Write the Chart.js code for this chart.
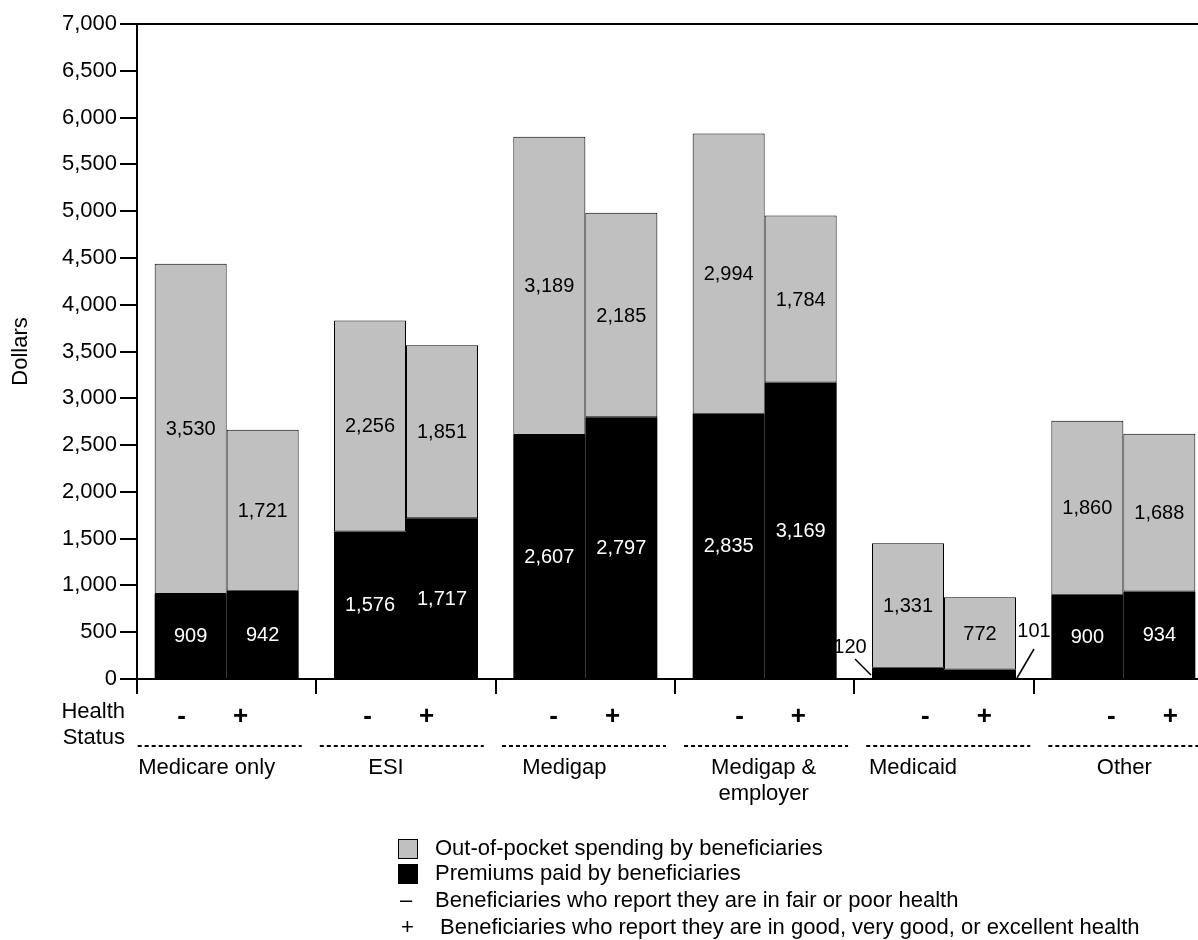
<!DOCTYPE html>
<html>
<head>
<meta charset="utf-8">
<script src="https://cdn.jsdelivr.net/npm/chart.js@4/dist/chart.umd.min.js"></script>
<style>
html,body{margin:0;padding:0;overflow:hidden;background:#fff;width:1198px;height:940px;}
#wrap{position:relative;width:1198px;height:940px;overflow:hidden;}
#c{position:absolute;left:0;top:0;}
.lg{position:absolute;font-family:"Liberation Sans",Arial,sans-serif;font-size:22px;line-height:22px;color:#000;white-space:nowrap;}
.sw{position:absolute;width:18px;height:18px;border:1px solid #000;}
</style>
</head>
<body>
<div id="wrap">
<canvas id="c" width="1230" height="940"></canvas>
<div class="sw" style="left:398px;top:839px;background:#c0c0c0;"></div>
<div class="lg" style="left:435px;top:837px;">Out-of-pocket spending by beneficiaries</div>
<div class="sw" style="left:398px;top:864px;background:#000;"></div>
<div class="lg" style="left:435px;top:862px;">Premiums paid by beneficiaries</div>
<div class="lg" style="left:400px;top:889px;">–</div>
<div class="lg" style="left:435px;top:889px;">Beneficiaries who report they are in fair or poor health</div>
<div class="lg" style="left:401px;top:916px;">+</div>
<div class="lg" style="left:440px;top:916px;">Beneficiaries who report they are in good, very good, or excellent health</div>
</div>
<script>
// ---- data ----
const categories = ['Medicare only', 'ESI', 'Medigap', 'Medigap & employer', 'Medicaid', 'Other'];
const categoryLines = [['Medicare only'], ['ESI'], ['Medigap'], ['Medigap &', 'employer'], ['Medicaid'], ['Other']];
const premiumsPoor = [909, 1576, 2607, 2835, 120, 900];
const oopPoor      = [3530, 2256, 3189, 2994, 1331, 1860];
const premiumsGood = [942, 1717, 2797, 3169, 101, 934];
const oopGood      = [1721, 1851, 2185, 1784, 772, 1688];
const healthSigns  = ['-', '+'];
const yMin = 0, yMax = 7000, yStep = 500;
const yTitle = 'Dollars';
const healthLabel = ['Health', 'Status'];

const FONT = '"Liberation Sans", Arial, sans-serif';
Chart.defaults.font.family = FONT;
Chart.defaults.color = '#000';

const GRAY = '#c0c0c0';
const fmt = v => Number(v).toLocaleString('en-US');

// value labels
const valueLabels = {
  id: 'valueLabels',
  beforeDatasetsDraw(chart) {
    const ctx = chart.ctx;
    ctx.save();
    ctx.font = '20px ' + FONT;
    ctx.fillStyle = '#000';
    ctx.strokeStyle = '#000';
    ctx.lineWidth = 1.5;
    ctx.textAlign = 'center';
    ctx.textBaseline = 'middle';
    chart.data.datasets.forEach((ds, di) => {
      if (!ds.isPremium) return;
      const meta = chart.getDatasetMeta(di);
      meta.data.forEach((bar, i) => {
        const h = Math.abs(bar.base - bar.y);
        if (h >= 22) return;
        const left = bar.x - bar.width / 2, right = bar.x + bar.width / 2;
        const base = bar.base;
        if (ds.stack === 'poor') {
          ctx.fillText(fmt(ds.data[i]), left - 22, base - 31);
          ctx.beginPath(); ctx.moveTo(left - 17, base - 19); ctx.lineTo(left - 1, base - 3); ctx.stroke();
        } else {
          ctx.fillText(fmt(ds.data[i]), right + 18, base - 47);
          ctx.beginPath(); ctx.moveTo(right + 18, base - 29); ctx.lineTo(right + 1, base); ctx.stroke();
        }
      });
    });
    ctx.restore();
  },
  afterDatasetsDraw(chart) {
    const ctx = chart.ctx;
    ctx.save();
    ctx.font = '20px ' + FONT;
    ctx.textAlign = 'center';
    ctx.textBaseline = 'middle';
    chart.data.datasets.forEach((ds, di) => {
      const meta = chart.getDatasetMeta(di);
      meta.data.forEach((bar, i) => {
        const h = Math.abs(bar.base - bar.y);
        if (h < 22) return;
        ctx.fillStyle = ds.isPremium ? '#fff' : '#000';
        ctx.fillText(fmt(ds.data[i]), bar.x, (bar.y + bar.base) / 2 + 1);
      });
    });
    ctx.restore();
  }
};

// lower annotations: health status row, dashed lines, category names
const lowerAxis = {
  id: 'lowerAxis',
  afterDraw(chart) {
    const ctx = chart.ctx;
    const xs = chart.scales.x;
    ctx.save();
    ctx.fillStyle = '#000';
    ctx.strokeStyle = '#000';
    ctx.font = '22px ' + FONT;
    ctx.textAlign = 'right';
    ctx.textBaseline = 'alphabetic';
    ctx.fillText(healthLabel[0], 125, 718);
    ctx.fillText(healthLabel[1], 125, 744);
    const labelDx = [-20, -20, -21, -1, -31, 1];
    categories.forEach((c, i) => {
      const cx = xs.getPixelForValue(i);
      const pc = cx + i * 6.6 - 15.5;
      ctx.font = 'bold 26px ' + FONT;
      ctx.textAlign = 'center';
      ctx.fillText(healthSigns[0], pc - 29.5, 724);
      ctx.fillText(healthSigns[1], pc + 29.5, 724);
      const dc = cx + i * 2.8 - 7;
      ctx.lineWidth = 2;
      ctx.setLineDash([4, 3]);
      ctx.beginPath(); ctx.moveTo(dc - 82, 746); ctx.lineTo(dc + 82, 746); ctx.stroke();
      ctx.setLineDash([]);
      ctx.font = '22px ' + FONT;
      categoryLines[i].forEach((ln, k) => {
        ctx.fillText(ln, cx + labelDx[i], 774 + k * 26);
      });
    });
    ctx.restore();
  }
};

new Chart(document.getElementById('c'), {
  type: 'bar',
  data: {
    labels: categories,
    datasets: [
      { label: 'Premiums paid by beneficiaries (-)', data: premiumsPoor, stack: 'poor', isPremium: true,
        backgroundColor: '#000', borderColor: '#000', borderWidth: 0 },
      { label: 'Out-of-pocket spending by beneficiaries (-)', data: oopPoor, stack: 'poor',
        backgroundColor: GRAY, borderColor: '#000', borderWidth: 1, borderSkipped: false },
      { label: 'Premiums paid by beneficiaries (+)', data: premiumsGood, stack: 'good', isPremium: true,
        backgroundColor: '#000', borderColor: '#000', borderWidth: 0 },
      { label: 'Out-of-pocket spending by beneficiaries (+)', data: oopGood, stack: 'good',
        backgroundColor: GRAY, borderColor: '#000', borderWidth: 1, borderSkipped: false }
    ]
  },
  options: {
    responsive: false,
    animation: false,
    devicePixelRatio: 1,
    categoryPercentage: 144 / 179.33,
    barPercentage: 1,
    layout: { padding: { left: 0, right: 17, top: 24, bottom: 0 } },
    plugins: { legend: { display: false }, tooltip: { enabled: false } },
    scales: {
      x: {
        stacked: true,
        offset: true,
        grid: { offset: true, drawOnChartArea: false, drawTicks: true, tickLength: 15, color: '#000', lineWidth: 2 },
        border: { display: true, color: '#000', width: 2 },
        ticks: { display: false },
        afterFit: s => { s.height = 940 - 679; }
      },
      y: {
        stacked: true,
        min: yMin, max: yMax,
        ticks: { stepSize: yStep, autoSkip: false, callback: v => fmt(v), font: { size: 22 }, color: '#000', padding: 3 },
        grid: {
          drawOnChartArea: true,
          color: c => (c.tick && c.tick.value === yMax) ? '#000' : 'rgba(0,0,0,0)',
          tickColor: '#000', tickLength: 17, lineWidth: 2
        },
        border: { display: true, color: '#000', width: 2 },
        title: { display: true, text: yTitle, font: { size: 22 }, color: '#000', padding: { top: 8, bottom: 0 } },
        afterFit: s => { s.width = 137; }
      }
    }
  },
  plugins: [valueLabels, lowerAxis]
});
</script>
</body>
</html>
